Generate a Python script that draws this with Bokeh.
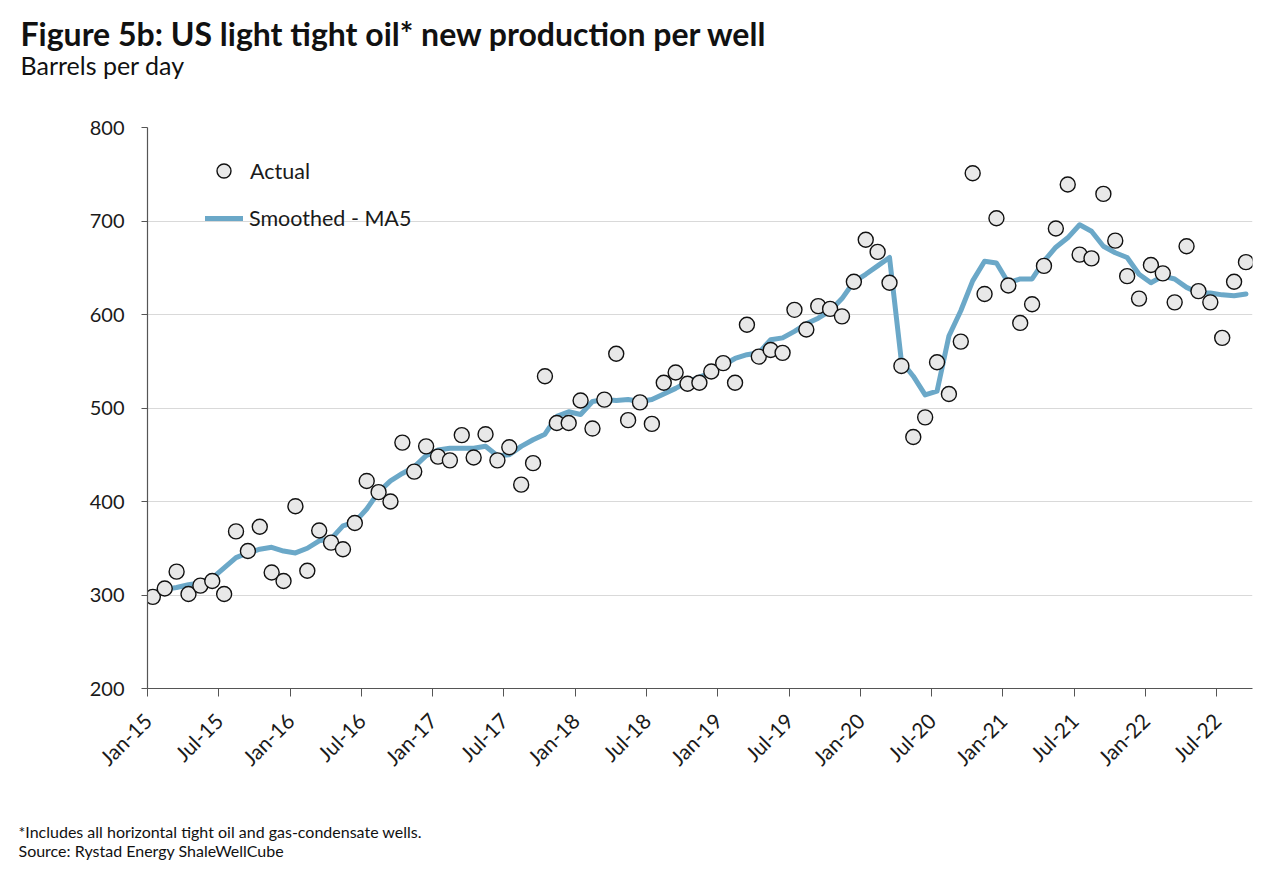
import numpy as np
from bokeh.plotting import figure
from bokeh.layouts import column
from bokeh.models import Label, Legend, LegendItem, FixedTicker, ColumnDataSource
from bokeh.embed import file_html
from bokeh.resources import INLINE

# ---- data (monthly, Jan-15 .. Sep-22) ----
actual = [298, 307, 325, 301, 310, 315, 301, 368, 347, 373, 324, 315,
          395, 326, 369, 356, 349, 377, 422, 410, 400, 463, 432, 459,
          448, 444, 471, 447, 472, 444, 458, 418, 441, 534, 484, 484,
          508, 478, 509, 558, 487, 506, 483, 527, 538, 526, 527, 539,
          548, 527, 589, 555, 562, 559, 605, 584, 609, 606, 598, 635,
          680, 667, 634, 545, 469, 490, 549, 515, 571, 751, 622, 703,
          631, 591, 611, 652, 692, 739, 664, 660, 729, 679, 641, 617,
          653, 644, 613, 673, 625, 613, 575, 635, 656]
smoothed = [302, 306, 308, 311, 313, 318, 329, 340, 345, 349, 351, 347,
            345, 350, 358, 360, 374, 378, 392, 410, 422, 430, 437, 449,
            455, 457, 457, 457, 459, 449, 450, 459, 466, 472, 491, 496,
            493, 507, 509, 508, 509, 507, 509, 515, 521, 528, 533, 538,
            546, 553, 557, 559, 573, 575, 582, 590, 596, 604, 617, 635,
            643, 652, 661, 550, 534, 514, 518, 577, 604, 636, 657, 655,
            634, 638, 638, 657, 672, 682, 696, 689, 673, 666, 661, 643,
            634, 641, 638, 629, 623, 623, 621, 620, 622]
tick_labels = ["Jan-15", "Jul-15", "Jan-16", "Jul-16", "Jan-17", "Jul-17",
               "Jan-18", "Jul-18", "Jan-19", "Jul-19", "Jan-20", "Jul-20",
               "Jan-21", "Jul-21", "Jan-22", "Jul-22"]
y_ticks = [200, 300, 400, 500, 600, 700, 800]

FONT = "Lato"
W = 1264
TOP_H, MAIN_H, FOOT_H = 110, 700, 56

month = np.arange(len(actual)) + 0.45
src = ColumnDataSource(dict(x=month, actual=actual, smoothed=smoothed))


def text_fig(height):
    f = figure(width=W, height=height, output_backend="svg", toolbar_location=None,
               x_range=(0, 1), y_range=(0, 1), min_border=0,
               min_border_left=0, min_border_right=0, min_border_top=0,
               min_border_bottom=0, frame_align=False,
               x_axis_location=None, y_axis_location=None)
    f.outline_line_color = None
    f.grid.grid_line_color = None
    f.background_fill_color = "white"
    f.border_fill_color = "white"
    return f


def add_text(f, txt, x, y, size, bold=False, color="#111111"):
    f.add_layout(Label(x=x, y=y, x_units="screen", y_units="screen", text=txt,
                       text_font=FONT, text_font_size=size,
                       text_font_style="bold" if bold else "normal",
                       text_color=color, text_baseline="alphabetic"))


# ---- title block ----
top = text_fig(TOP_H)
add_text(top, "Figure 5b: US light tight oil* new production per well", 20, TOP_H - 33, "32px", bold=True)
add_text(top, "Barrels per day", 20, TOP_H - 64, "25px")

# ---- main chart ----
p = figure(width=W, height=MAIN_H, output_backend="svg", toolbar_location=None,
           x_range=(0, 93), y_range=(200, 800), frame_align=False,
           min_border_left=147, min_border_right=12, min_border_top=127 - TOP_H,
           min_border_bottom=TOP_H + MAIN_H - 688)
p.outline_line_color = None
p.background_fill_color = "white"
p.border_fill_color = "white"

line_r = p.line("x", "smoothed", source=src, line_color="#6ba8c8", line_width=5,
                line_join="round", line_cap="round")
pts_r = p.scatter("x", "actual", source=src, size=15, fill_color="#e8e8e8",
                  line_color="#111111", line_width=1.4)

xt = list(range(0, 91, 6))
p.xaxis.ticker = FixedTicker(ticks=xt)
p.xaxis.major_label_overrides = {t: l for t, l in zip(xt, tick_labels)}
p.xaxis.major_label_orientation = np.pi / 4
p.xaxis.major_label_text_font = FONT
p.xaxis.major_label_text_font_size = "21px"
p.xaxis.major_label_text_color = "#1a1a1a"
p.xaxis.major_label_standoff = 20
p.xaxis.minor_tick_line_color = None
p.xaxis.major_tick_in = 0
p.xaxis.major_tick_out = 8
p.xaxis.axis_line_color = "#555555"
p.xaxis.major_tick_line_color = "#555555"
p.xaxis.axis_line_width = 1.2

p.yaxis.ticker = FixedTicker(ticks=y_ticks)
p.yaxis.major_label_text_font = FONT
p.yaxis.major_label_text_font_size = "20px"
p.yaxis.major_label_text_color = "#1a1a1a"
p.yaxis.minor_tick_line_color = None
p.yaxis.major_tick_in = 0
p.yaxis.major_tick_out = 6
p.yaxis.axis_line_color = "#555555"
p.yaxis.major_tick_line_color = "#555555"
p.yaxis.axis_line_width = 1.2
p.yaxis.major_label_standoff = 17

p.xgrid.grid_line_color = None
p.ygrid.grid_line_color = "#d9d9d9"
p.ygrid.grid_line_width = 1

leg_common = dict(orientation="vertical", border_line_color=None,
                  background_fill_alpha=0, label_text_font=FONT,
                  label_text_font_size="21.5px", label_text_color="#1a1a1a",
                  padding=0, margin=0, spacing=0)
legend1 = Legend(items=[LegendItem(label="Actual", renderers=[pts_r])],
                 location=(59, 500), glyph_width=35, glyph_height=35,
                 label_standoff=9, **leg_common)
legend2 = Legend(items=[LegendItem(label="Smoothed - MA5", renderers=[line_r])],
                 location=(58, 457), glyph_width=38, glyph_height=24,
                 label_standoff=6, **leg_common)
p.add_layout(legend1, "center")
p.add_layout(legend2, "center")

# ---- footnote block ----
foot = text_fig(FOOT_H)
add_text(foot, "*Includes all horizontal tight oil and gas-condensate wells.", 18, FOOT_H - 21, "16px")
add_text(foot, "Source: Rystad Energy ShaleWellCube", 18, FOOT_H - 40, "16px")

layout = column(top, p, foot, spacing=0)
open("out.html", "w").write(file_html(layout, INLINE))
